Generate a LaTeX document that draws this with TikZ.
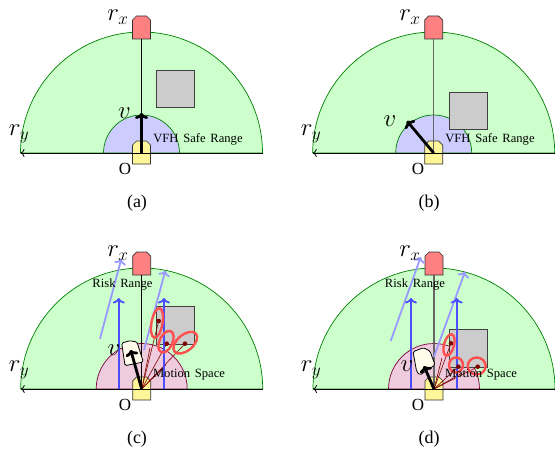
\documentclass[tikz,border=0pt]{standalone}
\usepackage{fontspec}
\setmainfont{Liberation Serif}
\newfontfamily\labfont[WordSpace=1.5]{Liberation Serif}
\usetikzlibrary{arrows.meta}
\definecolor{rng}{RGB}{204,255,204}
\definecolor{rngl}{RGB}{0,128,0}
\definecolor{safe}{RGB}{204,204,255}
\definecolor{moti}{RGB}{238,204,221}
\definecolor{motil}{RGB}{128,0,64}
\definecolor{robr}{RGB}{255,128,128}
\definecolor{roby}{RGB}{255,245,153}
\definecolor{obst}{RGB}{204,204,204}
\definecolor{dred}{RGB}{128,0,0}
\definecolor{hull}{RGB}{255,252,235}
\definecolor{ringc}{RGB}{255,80,80}
\tikzset{
 x=1pt,y=-1pt,
 bigr/.style={fill=rng,draw=rngl,line width=.7pt},
 safer/.style={fill=safe,draw=rngl,line width=.7pt},
 motr/.style={fill=moti,draw=motil,line width=.7pt},
 axisl/.style={draw=black,line width=.8pt},
 yaxis/.style={draw=black,line width=.8pt,-{To[length=4pt,width=8pt]}},
 obox/.style={fill=obst,draw=black!75,line width=.8pt},
 vel/.style={draw=black,line width=2.8pt,-{To[length=6pt,width=13pt]}},
 blue1/.style={draw=blue!70,line width=1.8pt,-{To[length=5.5pt,width=12pt]}},
 blue2/.style={draw=blue!40,line width=1.8pt,-{To[length=5.5pt,width=12pt]}},
 robot/.style={draw=black!80,line width=.7pt},
 ray/.style={draw=dred,line width=.6pt},
 dot/.style={fill=dred,draw=none,circle,inner sep=0pt,minimum size=4.6pt},
 ring/.style={draw=ringc,line width=2.4pt},
 lab/.style={inner sep=0pt,font=\labfont\fontsize{12.6}{14}\selectfont},
 mlab/.style={inner sep=0pt,font=\fontsize{24}{26}\selectfont},
 captxt/.style={inner sep=0pt,font=\fontsize{18}{20}\selectfont},
 olab/.style={inner sep=0pt,font=\fontsize{17}{18}\selectfont},
 hullshape/.style={fill=hull,draw=black,line width=.8pt,rounded corners=1.5pt}
}
\newcommand{\halfdisc}[4]{% x y r style
 \path[#4] ({#1-#3},#2) arc[start angle=180,end angle=360,x radius=#3,y radius=#3] -- cycle;
}
\newcommand{\roboty}[3]{% name x y
 \path[robot,fill=roby] ({#2-9},{#3+11}) -- ({#2-9},{#3-8}) -- ({#2-5},{#3-12}) -- ({#2+5},{#3-12}) -- ({#2+9},{#3-8}) -- ({#2+9},{#3+11}) -- cycle;
 \coordinate (#1) at (#2,#3);
}
\newcommand{\robotr}[3]{% name x y(top)
 \path[robot,fill=robr] ({#2-9},{#3+23}) -- ({#2-9},{#3+4}) -- ({#2-5},{#3}) -- ({#2+5},{#3}) -- ({#2+9},{#3+4}) -- ({#2+9},{#3+23}) -- cycle;
 \coordinate (#1) at (#2,{#3+23});
}
\begin{document}
\begin{tikzpicture}
\useasboundingbox (0,0) rectangle (555,452);
% ---------- (a)
\halfdisc{141.5}{153}{121}{bigr}
\halfdisc{141.5}{153}{38}{safer}
\node[obox,minimum width=38pt,minimum height=37pt,inner sep=0pt] (aobs) at (175,88.5) {};
\robotr{arx}{141.5}{16}
\roboty{ao}{141.5}{153}
\coordinate (aend) at (262.5,153); \coordinate (aleft) at (20.5,153);
\draw[yaxis] (aend) -- (aleft);
\draw[axisl] (ao) -- (arx);
\coordinate (av) at (141.5,113);
\draw[vel] (ao) -- (av);
\node[mlab] (avl) at (124.5,113.5) {$v$};
\node[mlab] (arxl) at (118,17) {$r_x$};
\node[mlab] (aryl) at (19,134) {$r_y$};
\node[lab] (asr) at (198,139) {VFH Safe Range};
\node[olab] (aol) at (125,169) {O};
\node[captxt] (acap) at (137,203) {(a)};
% ---------- (b)
\halfdisc{433.7}{153}{121}{bigr}
\halfdisc{433.7}{153}{38}{safer}
\node[obox,minimum width=38pt,minimum height=37pt,inner sep=0pt] (bobs) at (468,111) {};
\robotr{brx}{433.7}{16}
\roboty{bo}{433.7}{153}
\coordinate (bend) at (554.7,153); \coordinate (bleft) at (312.7,153);
\draw[yaxis] (bend) -- (bleft);
\draw[draw=black!60,line width=1.1pt] (bo) -- (brx);
\coordinate (bv) at (407,121);
\draw[vel] (bo) -- (bv);
\node[mlab] (bvl) at (390,121.5) {$v$};
\node[mlab] (brxl) at (410,17) {$r_x$};
\node[mlab] (bryl) at (311,134) {$r_y$};
\node[lab] (bsr) at (490,139) {VFH Safe Range};
\node[olab] (bol) at (418,169) {O};
\node[captxt] (bcap) at (429,203) {(b)};
% ---------- (c)
\halfdisc{141.7}{389}{121}{bigr}
\halfdisc{141.7}{389}{45.5}{motr}
\node[obox,minimum width=38pt,minimum height=38pt,inner sep=0pt] (cobs) at (175.7,325) {};
\robotr{crx}{141.7}{252}
\roboty{co}{141.7}{389}
\coordinate (cend) at (262.7,389); \coordinate (cleft) at (20.7,389);
\draw[yaxis] (cend) -- (cleft);
\draw[axisl] (co) -- (crx);
\path[hullshape] (121.7,343) -- (130,340.7) -- (137,342) -- (143.3,362) -- (125,365.7) -- cycle;
\coordinate (cd1) at (158.7,321); \coordinate (cd2) at (166.7,343.7); \coordinate (cd3) at (185,343.7);
\coordinate (cf1) at (150,348); \coordinate (cf2) at (166,365);
\foreach \d in {cd1,cd2,cd3,cf1,cf2} \draw[ray] (co) -- (\d);
\coordinate (cv) at (130.7,350);
\draw[vel] (co) -- (cv);
\coordinate (cb1s) at (118.7,389); \coordinate (cb1e) at (118.7,298);
\coordinate (cb2s) at (164,389); \coordinate (cb2e) at (164,298);
\coordinate (cl1s) at (100,338.7); \coordinate (cl1e) at (121.3,259);
\coordinate (cl2s) at (144,350); \coordinate (cl2e) at (165.3,270.7);
\draw[blue2] (cl1s) -- (cl1e); \draw[blue2] (cl2s) -- (cl2e);
\draw[blue1] (cb1s) -- (cb1e); \draw[blue1] (cb2s) -- (cb2e);
\node[dot] (cdot1) at (cd1) {}; \node[dot] (cdot2) at (cd2) {}; \node[dot] (cdot3) at (cd3) {};
\draw[ring,rotate around={-10:(157,323)}] (157,323) ellipse[x radius=5.5,y radius=15];
\draw[ring,rotate around={-25:(166,341.7)}] (166,341.7) ellipse[x radius=6.5,y radius=11.5];
\draw[ring,rotate around={40:(185.3,342.7)}] (185.3,342.7) ellipse[x radius=14,y radius=8];
\node[mlab] (cvl) at (114,350) {$v$};
\node[mlab] (crxl) at (118,253) {$r_x$};
\node[mlab] (cryl) at (19,370) {$r_y$};
\node[lab] (cms) at (189,375) {Motion Space};
\node[lab] (crr) at (122.5,284) {Risk Range};
\node[olab] (col) at (125,405) {O};
\node[captxt] (ccap) at (137,439) {(c)};
% ---------- (d)
\halfdisc{434}{389}{121}{bigr}
\halfdisc{434}{389}{45.5}{motr}
\node[obox,minimum width=38pt,minimum height=38pt,inner sep=0pt] (dobs) at (468,348) {};
\robotr{drx}{434}{252}
\roboty{do}{434}{389}
\coordinate (dend) at (555,389); \coordinate (dleft) at (313,389);
\draw[yaxis] (dend) -- (dleft);
\draw[draw=black!60,line width=1.1pt] (do) -- (drx);
\path[hullshape] (413,351.7) -- (423.3,347.7) -- (430,351) -- (435,365) -- (420,375) -- (416.7,371.7) -- cycle;
\coordinate (dd1) at (451,343.3); \coordinate (dd2) at (458.3,366.7); \coordinate (dd3) at (477.7,366.7);
\coordinate (df1) at (442,358); \coordinate (df2) at (462,373);
\foreach \d in {dd1,dd2,dd3,df1,df2} \draw[ray] (do) -- (\d);
\coordinate (dv) at (424,366);
\draw[vel] (do) -- (dv);
\coordinate (db1s) at (411,389); \coordinate (db1e) at (411,298);
\coordinate (db2s) at (456.7,389); \coordinate (db2e) at (456.7,298);
\coordinate (dl1s) at (390.7,341); \coordinate (dl1e) at (420.7,257);
\coordinate (dl2s) at (434,356.7); \coordinate (dl2e) at (465,271.7);
\draw[blue2] (dl1s) -- (dl1e); \draw[blue2] (dl2s) -- (dl2e);
\draw[blue1] (db1s) -- (db1e); \draw[blue1] (db2s) -- (db2e);
\node[dot] (ddot1) at (dd1) {}; \node[dot] (ddot2) at (dd2) {}; \node[dot] (ddot3) at (dd3) {};
\draw[ring,rotate around={-15:(449,345)}] (449,345) ellipse[x radius=5,y radius=11];
\draw[ring] (456,365) ellipse[x radius=7,y radius=7.5];
\draw[ring] (476.7,366) ellipse[x radius=9,y radius=8.5];
\node[mlab] (dvl) at (407,366) {$v$};
\node[mlab] (drxl) at (410,253) {$r_x$};
\node[mlab] (dryl) at (311,370) {$r_y$};
\node[lab] (dms) at (481,375) {Motion Space};
\node[lab] (drr) at (415,284) {Risk Range};
\node[olab] (dol) at (418,405) {O};
\node[captxt] (dcap) at (429,439) {(d)};
\end{tikzpicture}
\end{document}
